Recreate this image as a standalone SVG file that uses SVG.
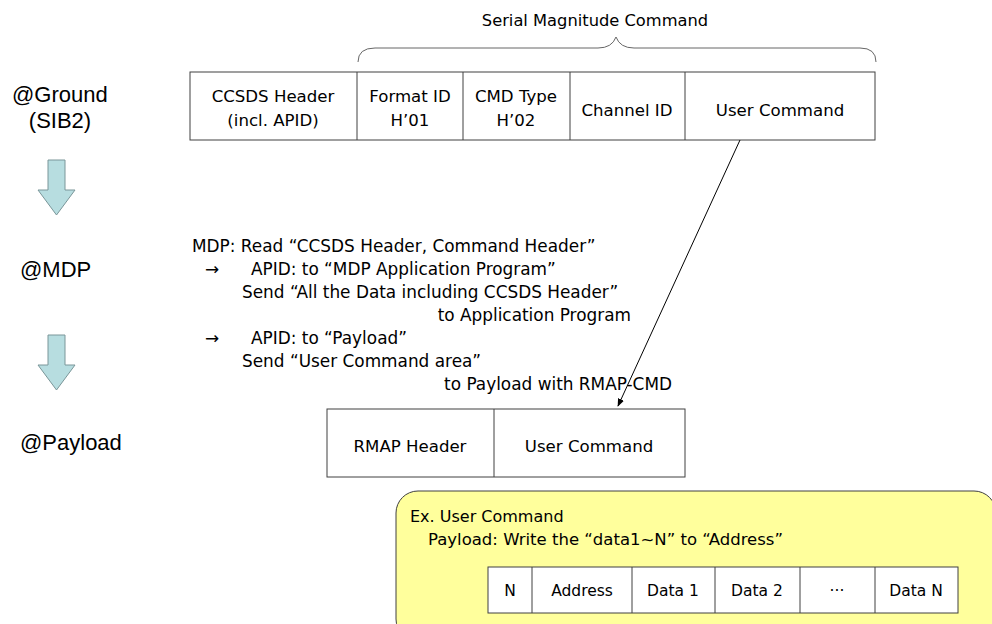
<svg xmlns="http://www.w3.org/2000/svg" width="992" height="624" viewBox="0 0 992 624">
<defs>
<style>
text{font-family:"DejaVu Sans","Liberation Sans",Arial,sans-serif;fill:#000}
.lbl{font-family:"Liberation Sans",Arial,sans-serif;font-size:22px}
.cell{font-size:16.6px;text-anchor:middle}
.small{font-size:15.5px;text-anchor:middle}
.body{font-size:16.9px}
.box{fill:#fff;stroke:#404040;stroke-width:1}
.div{stroke:#404040;stroke-width:1}
.barrow{fill:#b7dde0;stroke:#7a9699;stroke-width:1}
</style>
<marker id="ah" viewBox="0 0 10 10" refX="9" refY="5" markerWidth="8" markerHeight="8" orient="auto" markerUnits="userSpaceOnUse">
<path d="M0,1 L10,5 L0,9 z" fill="#000"/>
</marker>
</defs>
<rect width="992" height="624" fill="#fff"/>

<g id="stage-labels">
<text class="lbl" x="12" y="102">@Ground</text>
<text class="lbl" x="60" y="128" text-anchor="middle">(SIB2)</text>
<text class="lbl" x="20" y="277">@MDP</text>
<text class="lbl" x="20" y="450">@Payload</text>
</g>

<g id="flow-arrow-1"><path class="barrow" d="M48,160 H65 V190 H75 L56.5,215 L38,190 H48 Z"/></g>
<g id="flow-arrow-2"><path class="barrow" d="M48,335 H65 V365 H75 L56.5,390 L38,365 H48 Z"/></g>

<g id="brace">
<path d="M358,62 Q358,48 375,48 H598 Q612,48 616,37 Q620,48 634,48 H860 Q876,48 876,62" fill="none" stroke="#666" stroke-width="1"/>
<text x="595" y="26" style="font-size:16.3px" text-anchor="middle">Serial Magnitude Command</text>
</g>

<g id="sib2-packet">
<rect class="box" x="190" y="72" width="685" height="68"/>
<line class="div" x1="357" y1="72" x2="357" y2="140"/>
<line class="div" x1="463" y1="72" x2="463" y2="140"/>
<line class="div" x1="570" y1="72" x2="570" y2="140"/>
<line class="div" x1="685" y1="72" x2="685" y2="140"/>
<text class="cell" x="273" y="102">CCSDS Header</text>
<text class="cell" x="273" y="126">(incl. APID)</text>
<text class="cell" x="410" y="102">Format ID</text>
<text class="cell" x="410" y="126">H’01</text>
<text class="cell" x="516" y="102">CMD Type</text>
<text class="cell" x="516" y="126">H’02</text>
<text class="cell" x="627" y="116">Channel ID</text>
<text class="cell" x="780" y="116">User Command</text>
</g>

<g id="mdp-text">
<text class="body" x="192" y="252">MDP: Read “CCSDS Header, Command Header”</text>
<text class="body" x="205" y="275">→</text>
<text class="body" x="251" y="275">APID: to “MDP Application Program”</text>
<text class="body" x="242" y="298">Send “All the Data including CCSDS Header”</text>
<text class="body" x="631" y="321" text-anchor="end">to Application Program</text>
<text class="body" x="205" y="344">→</text>
<text class="body" x="251" y="344">APID: to “Payload”</text>
<text class="body" x="242" y="367">Send “User Command area”</text>
<text class="body" x="672" y="390" text-anchor="end">to Payload with RMAP-CMD</text>
</g>

<g id="connectors">
<line x1="740" y1="140" x2="618" y2="406" stroke="#000" stroke-width="1" marker-end="url(#ah)"/>
</g>

<g id="rmap-packet">
<rect class="box" x="327" y="409" width="358" height="68"/>
<line class="div" x1="494" y1="409" x2="494" y2="477"/>
<text class="cell" x="410" y="452">RMAP Header</text>
<text class="cell" x="589" y="452">User Command</text>
</g>

<g id="example">
<rect x="396" y="491" width="600" height="150" rx="22" ry="22" fill="#ffff9c" stroke="#404040" stroke-width="1"/>
<text class="body" x="410" y="522" style="font-size:16px">Ex. User Command</text>
<text class="body" x="428" y="545" style="font-size:16.5px">Payload: Write the “data1~N” to “Address”</text>
<rect class="box" x="488" y="567" width="470" height="46"/>
<line class="div" x1="532" y1="567" x2="532" y2="613"/>
<line class="div" x1="632" y1="567" x2="632" y2="613"/>
<line class="div" x1="715" y1="567" x2="715" y2="613"/>
<line class="div" x1="800" y1="567" x2="800" y2="613"/>
<line class="div" x1="875" y1="567" x2="875" y2="613"/>
<text class="small" x="510" y="596">N</text>
<text class="small" x="582" y="596">Address</text>
<text class="small" x="673" y="596">Data 1</text>
<text class="small" x="757" y="596">Data 2</text>
<text class="small" x="837" y="596">···</text>
<text class="small" x="916" y="596">Data N</text>
</g>
</svg>
